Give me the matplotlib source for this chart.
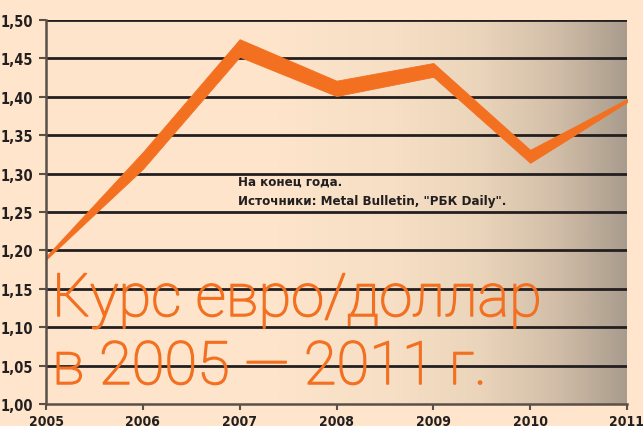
import numpy as np
import matplotlib
matplotlib.use("Agg")
import matplotlib.pyplot as plt
import matplotlib.patheffects as pe
from matplotlib.colors import LinearSegmentedColormap

years = [2005, 2006, 2007, 2008, 2009, 2010, 2011]
upper = [1.192, 1.328, 1.475, 1.421, 1.444, 1.331, 1.397]
lower = [1.188, 1.306, 1.452, 1.401, 1.426, 1.314, 1.393]
yticks = [1.00, 1.05, 1.10, 1.15, 1.20, 1.25, 1.30, 1.35, 1.40, 1.45, 1.50]
ytick_labels = ["1,00", "1,05", "1,10", "1,15", "1,20", "1,25", "1,30", "1,35", "1,40", "1,45", "1,50"]
title_lines = ["Курс евро/доллар", "в 2005 — 2011 г."]
note_lines = ["На конец года.", "Источники: Metal Bulletin, \"РБК Daily\"."]

BG = "#FEE5CB"
ORANGE = "#F37021"
DARK = "#231F20"
SPINE = "#5A5048"
COND = ["DejaVu Sans"]

W, H = 643, 427
fig = plt.figure(figsize=(W / 100, H / 100), dpi=100, facecolor=BG)
L, R, B, T = 46, 627, 405, 21
ax = fig.add_axes([L / W, 1 - B / H, (R - L) / W, (B - T) / H])
ax.set_facecolor(BG)

cmap = LinearSegmentedColormap.from_list(
    "bg", [(0.0, "#FEE5CB"), (0.40, "#FDE4CA"), (0.60, "#F6DFC5"),
           (0.75, "#EAD4BA"), (0.88, "#D2BEA8"), (1.0, "#A99C8D")])
grad = np.linspace(0, 1, 512).reshape(1, -1)
ax.imshow(grad, cmap=cmap, aspect="auto", extent=[2005, 2011, 1.0, 1.5],
          zorder=0, interpolation="bilinear")

ax.set_xlim(2005, 2011)
ax.set_ylim(1.0, 1.5)
for v in yticks[1:]:
    ax.axhline(v, color=DARK, lw=2.0, zorder=1)

ax.fill_between(years, lower, upper, color=ORANGE, lw=0.6, edgecolor=ORANGE, zorder=3)

for s in ["top", "right"]:
    ax.spines[s].set_visible(False)
for s in ["left", "bottom"]:
    ax.spines[s].set_color(SPINE)
    ax.spines[s].set_linewidth(1.8)
    ax.spines[s].set_zorder(4)

ax.set_yticks(yticks)
ax.set_yticklabels(ytick_labels)
ax.set_xticks(years)
ax.set_xticklabels([str(y) for y in years])
ax.tick_params(axis="y", length=5, width=1.5, color=SPINE, pad=4, labelsize=10.5, labelcolor=DARK)
ax.tick_params(axis="x", length=4, width=1.5, color=SPINE, pad=3, labelsize=10, labelcolor=DARK)
for lab in ax.get_yticklabels() + ax.get_xticklabels():
    lab.set_family(COND)
    lab.set_fontweight("bold")
    lab.set_fontstretch("condensed")

for i, yb in enumerate([186, 205]):
    fig.text(238 / W, 1 - yb / H, note_lines[i], family=COND, fontweight="bold",
             fontstretch="condensed", fontsize=9.5, color=DARK, va="baseline")

for i, yb in enumerate([317, 385]):
    fig.text(52 / W, 1 - yb / H, title_lines[i], family=["Roboto", "DejaVu Sans"], fontweight="light",
             fontsize=43, color=ORANGE, va="baseline", zorder=5,
             path_effects=[pe.withStroke(linewidth=1.1, foreground=ORANGE)])

fig.savefig("out.png", dpi=100, facecolor=BG)
